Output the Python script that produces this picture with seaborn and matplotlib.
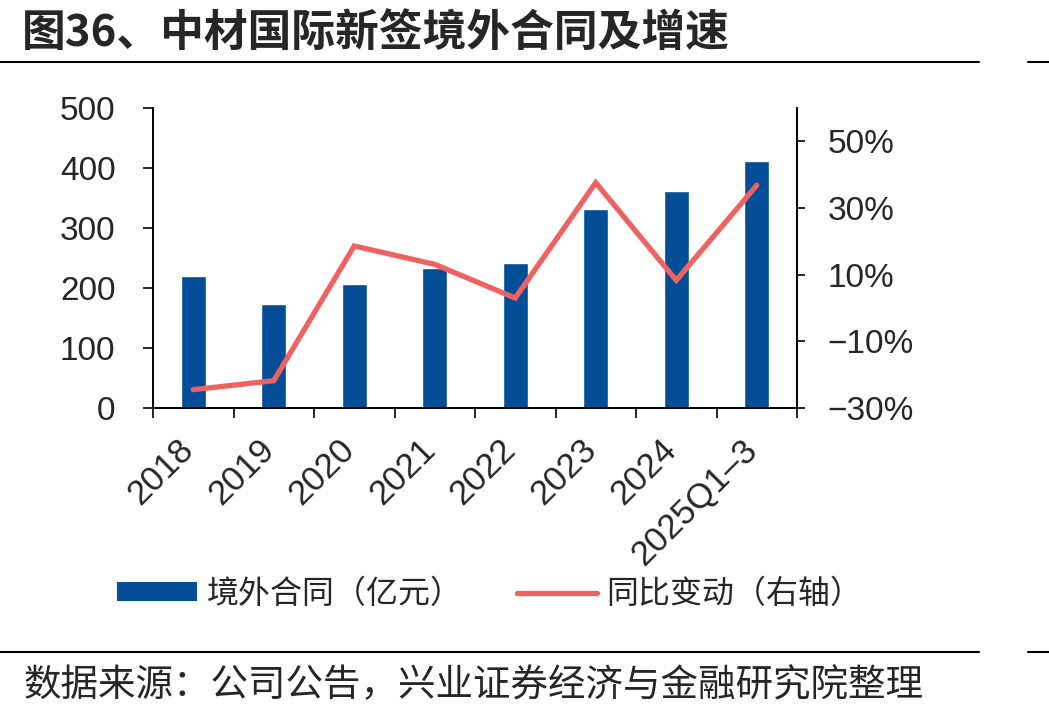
import numpy as np
import pandas as pd
import seaborn as sns
import matplotlib.pyplot as plt
import matplotlib.transforms as mtransforms
from matplotlib.lines import Line2D
from matplotlib.patches import Patch
from matplotlib.ticker import FixedLocator, FuncFormatter

# data
years = ["2018", "2019", "2020", "2021", "2022", "2023", "2024", "2025Q1–3"]
contracts = [220, 174, 207, 234, 242, 332, 362, 412]          # 亿元
growth = [-0.245, -0.218, 0.186, 0.131, 0.030, 0.376, 0.083, 0.368]

bar_color = "#034E97"
line_color = "#EF6262"

sns.set_style("ticks")
plt.rcParams["font.family"] = ["Liberation Sans", "Noto Sans CJK SC", "DejaVu Sans"]
plt.rcParams["axes.unicode_minus"] = True
cjk = ["Noto Sans CJK SC", "DejaVu Sans"]

fig = plt.figure(figsize=(10.49, 7.17), dpi=100)
ax = fig.add_axes([153 / 1049, 1 - 408 / 717, 644 / 1049, 300 / 717])

df = pd.DataFrame({"year": years, "value": contracts})
sns.barplot(data=df, x="year", y="value", color=bar_color, width=0.31,
            saturation=1, ax=ax)
ax.set_ylim(0, 500)
ax.set_xlim(-0.5, len(years) - 0.5)
ax.set_yticks(range(0, 501, 100))
ax.set_xlabel("")
ax.set_ylabel("")

ax2 = ax.twinx()
sns.lineplot(x=np.arange(len(years)), y=growth, color=line_color, lw=3.8,
             solid_capstyle="round", solid_joinstyle="miter", ax=ax2)
ax2.set_ylim(-0.30, 0.60)
ax2.yaxis.set_major_locator(FixedLocator([-0.3, -0.1, 0.1, 0.3, 0.5]))
ax2.yaxis.set_major_formatter(FuncFormatter(
    lambda v, p: ("−" if v < 0 else "") + f"{abs(v) * 100:.0f}%"))

for a in (ax, ax2):
    for s in a.spines.values():
        s.set_linewidth(1.4)
        s.set_color("black")
ax.spines["top"].set_visible(False)
ax.spines["right"].set_visible(False)
ax2.spines["top"].set_visible(False)
ax2.spines["left"].set_visible(False)
ax2.spines["bottom"].set_visible(False)

ax.tick_params(axis="y", direction="out", length=7, width=1.4, pad=20,
               labelsize=24)
ax2.tick_params(axis="y", direction="out", length=6, width=1.4, pad=16,
                labelsize=24)

# category labels centred, tick marks between categories
ax.set_xticks(np.arange(len(years)))
ax.set_xticks(np.arange(-0.5, len(years)), minor=True)
ax.tick_params(axis="x", which="major", length=0, pad=18, labelsize=25)
ax.tick_params(axis="x", which="minor", direction="out", length=7, width=1.4)
shift = mtransforms.ScaledTranslation(7 / 100, 0, fig.dpi_scale_trans)
for lab in ax.get_xticklabels():
    lab.set_rotation(45)
    lab.set_ha("right")
    lab.set_transform(lab.get_transform() + shift)

# legend
handles = [Patch(facecolor=bar_color, edgecolor="none"),
           Line2D([0], [0], color=line_color, lw=3.8, solid_capstyle="round")]
fig.legend(handles, ["境外合同（亿元）", "同比变动（右轴）"],
           loc="center", bbox_to_anchor=(490 / 1049, 1 - 594 / 717), ncol=2,
           frameon=False, prop={"family": cjk, "size": 23},
           handlelength=2.5, handleheight=0.55, handletextpad=0.3,
           columnspacing=1.7)

# title, rules and source
fig.text(22 / 1049, 1 - 33 / 717, "图36、中材国际新签境外合同及增速",
         fontsize=31.5, fontweight="bold", family=cjk, va="center", ha="left")
for yy in (62, 652):
    y = 1 - yy / 717
    fig.add_artist(Line2D([0, 979 / 1049], [y, y], color="black", lw=1.5))
    fig.add_artist(Line2D([1028 / 1049, 1], [y, y], color="black", lw=1.5))
fig.text(24 / 1049, 1 - 686 / 717, "数据来源：公司公告，兴业证券经济与金融研究院整理",
         fontsize=27, family=cjk, va="center", ha="left")

fig.savefig("out.png", dpi=100)
